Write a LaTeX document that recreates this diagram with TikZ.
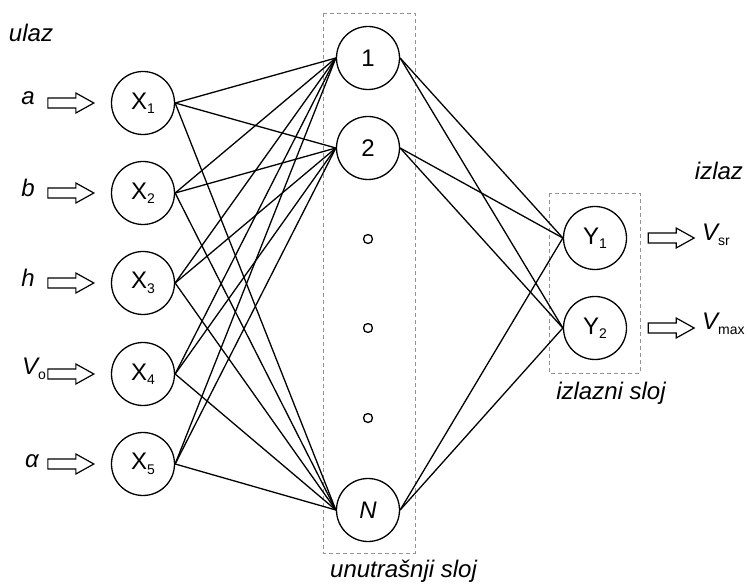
\documentclass[tikz,border=0pt]{standalone}
\usepackage{fontspec}
\setmainfont{Liberation Sans}
\newcommand\nsub[1]{\raisebox{-4.5pt}{\fontsize{14}{14}\selectfont\upshape #1}}
\begin{document}
\begin{tikzpicture}[x=1pt,y=-1pt,
  neuron/.style={circle,draw,line width=1.3pt,minimum size=63pt,inner sep=0pt,font=\fontsize{24}{24}\selectfont},
  link/.style={line width=1.3pt},
  layerbox/.style={draw=gray!85,dash pattern=on 4pt off 3pt,line width=0.9pt},
  lbl/.style={font=\fontsize{24}{24}\selectfont\itshape,inner sep=0pt},
  dotnode/.style={circle,draw,line width=1.3pt,minimum size=9pt,inner sep=0pt},
  blockarrow/.pic={\draw[line width=1.2pt,line join=miter] (0,-5) -- (28,-5) -- (28,-10) -- (46,0) -- (28,10) -- (28,5) -- (0,5) -- cycle;}
]
\useasboundingbox (0,0) rectangle (748,585);
% layer boxes
\draw[layerbox] (323,13) rectangle (415,553);
\draw[layerbox] (549,193) rectangle (640,373);
% input neurons
\node[neuron] (x1) at (143,103) {X\nsub{1}};
\node[neuron] (x2) at (143,193) {X\nsub{2}};
\node[neuron] (x3) at (143,283) {X\nsub{3}};
\node[neuron] (x4) at (143,374) {X\nsub{4}};
\node[neuron] (x5) at (143,464) {X\nsub{5}};
% hidden neurons
\node[neuron] (h1) at (368,58) {1};
\node[neuron] (h2) at (368,148) {2};
\node[neuron] (hN) at (368,510) {\itshape N};
\node[dotnode] (d1) at (368,239) {};
\node[dotnode] (d2) at (368,328) {};
\node[dotnode] (d3) at (368,418) {};
% output neurons
\node[neuron] (y1) at (595,238) {Y\nsub{1}};
\node[neuron] (y2) at (595,328) {Y\nsub{2}};
% connections
\foreach \i in {1,...,5} \foreach \h in {h1,h2,hN} \draw[link] (x\i.east) -- (\h.west);
\foreach \h in {h1,h2,hN} \foreach \o in {y1,y2} \draw[link] (\h.east) -- (\o.west);
% input arrows
\foreach \i in {1,...,5} \path (x\i.west) ++(-63,0) pic {blockarrow};
\foreach \o in {y1,y2} \path (\o.east) ++(21,0) pic {blockarrow};
% labels
\node[lbl] (ulaz) at (31,33) {ulaz};
\node[lbl] (izlaz) at (719,171) {izlaz};
\node[lbl] (la) at (28,98) {a};
\node[lbl] (lb) at (28,188) {b};
\node[lbl] (lh) at (28,278) {h};
\node[lbl,anchor=west] (lv) at (22,369) {V\nsub{o}};
\node[lbl] (lal) at (32,461) {α};
\node[lbl,anchor=west] (lvsr) at (702,235) {V\nsub{sr}};
\node[lbl,anchor=west] (lvmax) at (702,324) {V\nsub{max}};
\node[lbl,anchor=west] (lhid) at (330,571) {unutrašnji sloj};
\node[lbl] (lout) at (611,393) {izlazni sloj};
\end{tikzpicture}
\end{document}
